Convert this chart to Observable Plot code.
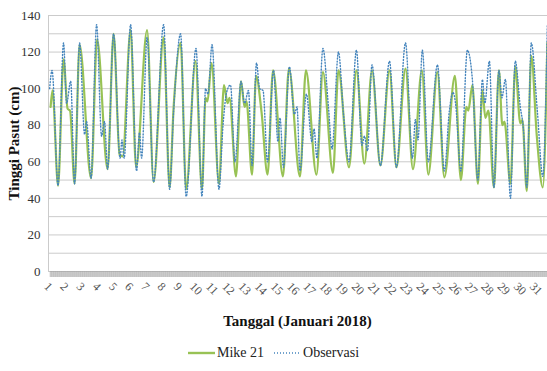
<!DOCTYPE html>
<html>
<head>
<meta charset="utf-8">
<script src="https://cdn.jsdelivr.net/npm/d3@7"></script>
<script src="https://cdn.jsdelivr.net/npm/@observablehq/plot@0.6"></script>
<style>
  html, body { margin: 0; padding: 0; background: #fff; }
  body { width: 547px; height: 371px; position: relative; overflow: hidden; font-family: "Liberation Serif", "Times New Roman", serif; }
  #chart { position: absolute; left: 0; top: 0; }
  #chart svg, #chart svg text { font-family: "Liberation Serif", "Times New Roman", serif !important; }
  #xtitle { position: absolute; left: 48px; width: 499px; top: 313px; text-align: center; font-weight: bold; font-size: 15px; color: #111; }
  #legend { position: absolute; left: 0; width: 547px; top: 345px; display: flex; justify-content: center; align-items: center; font-size: 14px; color: #222; }
  #legend .item { display: flex; align-items: center; margin: 0 5px; }
  #legend svg { margin-right: 2px; }
</style>
</head>
<body>
<div id="chart"></div>
<div id="xtitle">Tanggal (Januari 2018)</div>
<div id="legend"></div>
<script>
// Series names
const seriesNames = ["Mike 21", "Observasi"];
// Day position (1 = start of 1 Jan 2018) and water level (cm) at turning points
const mikeDay = [1.03,1.15,1.49,1.83,2.08,2.23,2.51,2.82,3.53,3.90,4.55,4.92,5.29,5.48,5.97,6.31,6.99,7.39,8.01,8.38,8.63,9.06,9.40,9.98,10.38,10.60,10.72,10.97,11.43,11.74,11.96,12.08,12.48,12.79,13.01,13.13,13.47,13.72,14.06,14.43,14.77,15.38,15.75,16.43,16.80,17.45,17.85,18.47,18.81,19.46,19.92,20.41,20.88,21.40,21.96,22.39,22.95,23.41,23.96,24.36,24.92,25.35,26.00,26.37,26.71,26.83,27.08,27.42,27.70,27.88,28.07,28.41,28.72,28.93,29.06,29.43,29.73,30.04,30.17,30.44,30.72,31.06,31.43,31.71];
const mikeVal = [90,99,47,116,89,88,48,124,51,127,56,130,64,63,132,57,132,49,128,46,90,125,45,115,45,95,93,114,48,102,92,95,52,104,90,93,53,107,87,53,110,52,111,52,110,53,109,54,110,57,110,59,110,58,110,57,111,56,110,53,109,51.5,107,50,90,88,102,48,99,84,88,46,110,80,82,48,112,81,83,44,118,74,46,125];
const obsDay = [0.97,1.12,1.49,1.83,2.02,2.27,2.51,2.82,3.13,3.25,3.53,3.87,4.18,4.36,4.55,4.92,5.32,5.44,5.57,5.97,6.34,6.52,6.65,6.99,7.39,8.01,8.38,8.63,9.06,9.40,10.01,10.38,10.60,10.75,11.00,11.43,11.68,11.90,12.14,12.42,12.79,13.01,13.25,13.47,13.75,13.94,14.15,14.43,14.80,15.07,15.20,15.41,15.78,16.09,16.25,16.43,16.83,17.17,17.30,17.48,17.85,18.19,18.41,18.81,19.12,19.46,19.92,20.26,20.41,20.60,20.88,21.40,21.96,22.39,22.95,23.38,23.56,23.72,23.99,24.36,24.92,25.35,25.66,25.88,26.04,26.37,26.77,27.08,27.42,27.70,27.85,28.13,28.41,28.72,28.90,29.12,29.43,29.73,30.04,30.23,30.44,30.72,31.09,31.43,31.71];
const obsVal = [100,110,47,125,92,104,48,125,75,82,51,135,74,82,56,130,62,72,62,135,55,76,62,128,49,135,45,88,130,41,122,41,100,97,124,45,80,98,102,60,104,92,99,58,114,100,99,60,110,71,84,57,112,86,90,55,97,71,78,62,122,90,67,120,86,60,121,69,74,66,113,58,115,57,125,62,83,72,121,60,113,55,88,98,92,55,121,105,50,105,92,115,46,110,95,105,40,115,90,78,46,125,88,52,135];
// Axis ticks
const yLabelTicks = [0,20,40,60,80,100,120,140];
const yGridTicks = [0,10,20,30,40,50,60,70,80,90,100,110,120,130,140];
const dayLabels = d3.range(1, 32);

const mike = mikeDay.map((d, i) => ({day: d, val: mikeVal[i]}));
const obs = obsDay.map((d, i) => ({day: d, val: obsVal[i]}));
const hourTicks = d3.range(1, 31.72, 1/24);

const colGreen = "#98c255";
const colBlue = "#4585bd";
const serif = "'Liberation Serif', 'Times New Roman', serif";

const chart = Plot.plot({
  width: 547,
  height: 305,
  marginTop: 15,
  marginBottom: 34,
  marginLeft: 48,
  marginRight: 0,
  style: {fontFamily: serif, fontSize: "13px", color: "#333", background: "#fff"},
  x: {domain: [0.9, 31.72]},
  y: {domain: [0, 140]},
  marks: [
    Plot.ruleY(yGridTicks, {stroke: "#cbcbcb", strokeWidth: 1}),
    Plot.ruleX([0.9], {stroke: "#cbcbcb", strokeWidth: 1}),
    Plot.axisY({ticks: yLabelTicks, tickSize: 0, tickPadding: 8, label: null, fill: "#333", fontSize: 13}),
    Plot.text(["Tinggi Pasut (cm)"], {frameAnchor: "left", dx: -34, rotate: -90, textAnchor: "middle", fontWeight: "bold", fontSize: 15, letterSpacing: "0.8px", fill: "#111"}),
    Plot.axisX({ticks: hourTicks, tickSize: 6, text: null, label: null, stroke: "#a0a0a0", strokeWidth: 0.5}),
    Plot.axisX({ticks: dayLabels, tickSize: 0, tickPadding: 13, tickRotate: 45, dx: -4, label: null, fontSize: 12, fill: "#555", tickFormat: d => String(d)}),
    Plot.line(mike, {x: "day", y: "val", stroke: colGreen, strokeWidth: 2.2, curve: "monotone-x"}),
    Plot.line(obs, {x: "day", y: "val", stroke: colBlue, strokeWidth: 1.4, strokeDasharray: "1,2", curve: "monotone-x"})
  ]
});
document.getElementById("chart").appendChild(chart);

// legend
const legend = document.getElementById("legend");
const styles = [
  {color: colGreen, width: 2.4, dash: null},
  {color: colBlue, width: 1.4, dash: "1,2"}
];
seriesNames.forEach((name, i) => {
  const item = document.createElement("div");
  item.className = "item";
  const s = styles[i];
  item.innerHTML = `<svg width="27" height="10"><line x1="0" y1="5" x2="27" y2="5" stroke="${s.color}" stroke-width="${s.width}" ${s.dash ? `stroke-dasharray="${s.dash}"` : ""}/></svg><span>${name}</span>`;
  legend.appendChild(item);
});
</script>
</body>
</html>
